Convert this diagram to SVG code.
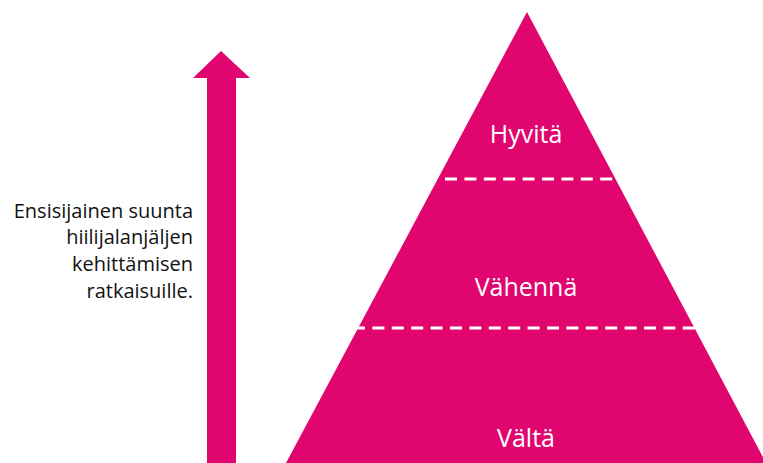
<svg xmlns="http://www.w3.org/2000/svg" width="763" height="463" viewBox="0 0 763 463">
<style>
.fill{fill:#E1066F}
.dash{stroke:#ffffff;stroke-width:3;stroke-dasharray:12 7.4;fill:none}
.lbl{font-family:"Open Sans","Liberation Sans",sans-serif;font-size:25px;fill:#ffffff;text-anchor:middle}
.side{font-family:"Open Sans","Liberation Sans",sans-serif;font-size:20px;fill:#111111;text-anchor:end}
</style>
<rect width="763" height="463" fill="#ffffff"/>
<g id="arrow">
<polygon class="fill" points="221,51 250,78 236,78 236,463 207,463 207,78 193,78"/>
</g>
<g id="pyramid">
<polygon class="fill" points="527,12 766,463 286,463"/>
</g>
<g id="connectors">
<line class="dash" x1="445" y1="179" x2="614" y2="179"/>
<line class="dash" x1="353" y1="328" x2="700" y2="328"/>
</g>
<g id="hyvita"><text class="lbl" x="526" y="143">Hyvitä</text></g>
<g id="vahenna"><text class="lbl" x="526" y="296">Vähennä</text></g>
<g id="valta"><text class="lbl" x="526" y="447">Vältä</text></g>
<g id="note">
<text class="side" x="193" y="218">Ensisijainen suunta</text>
<text class="side" x="193" y="244">hiilijalanjäljen</text>
<text class="side" x="193" y="271">kehittämisen</text>
<text class="side" x="193" y="298">ratkaisuille.</text>
</g>
</svg>
